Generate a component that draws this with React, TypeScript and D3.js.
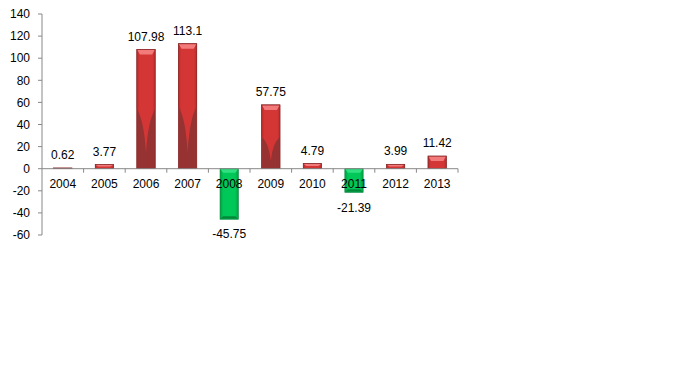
import React from "react";
import * as d3 from "d3";

const years = ["2004", "2005", "2006", "2007", "2008", "2009", "2010", "2011", "2012", "2013"];
const values = [0.62, 3.77, 107.98, 113.1, -45.75, 57.75, 4.79, -21.39, 3.99, 11.42];
const yTicks = [-60, -40, -20, 0, 20, 40, 60, 80, 100, 120, 140];

const W = 683, H = 384;
const left = 42, right = 458, top = 14, bottom = 235;

export default function App() {
  const x = d3.scaleBand().domain(years).range([left, right]).paddingInner(0.56).paddingOuter(0.28);
  const xb = d3.scaleBand().domain(years).range([left, right]);
  const y = d3.scaleLinear().domain([-60, 140]).range([bottom, top]);
  const y0 = y(0);
  const bw = x.bandwidth();
  const font = "'Liberation Sans', Arial, sans-serif";

  return (
    <svg width={W} height={H} style={{ position: "absolute", left: 0, top: 0 }} xmlns="http://www.w3.org/2000/svg">
      <defs>
        <linearGradient id="redH" x1="0" x2="1" y1="0" y2="0">
          <stop offset="0" stopColor="#b82a2a" />
          <stop offset="0.15" stopColor="#d43636" />
          <stop offset="0.85" stopColor="#d43636" />
          <stop offset="1" stopColor="#b82a2a" />
        </linearGradient>
        <linearGradient id="greenH" x1="0" x2="1" y1="0" y2="0">
          <stop offset="0" stopColor="#00a040" />
          <stop offset="0.18" stopColor="#00c858" />
          <stop offset="0.82" stopColor="#00c858" />
          <stop offset="1" stopColor="#00a040" />
        </linearGradient>
      </defs>
      <rect width={W} height={H} fill="#ffffff" />
      {/* y axis */}
      <line x1={left} x2={left} y1={top} y2={bottom} stroke="#888" />
      {yTicks.map((t) => (
        <g key={t}>
          <line x1={left - 4} x2={left} y1={y(t)} y2={y(t)} stroke="#888" />
          <text x={left - 12} y={y(t)} dy="0.35em" textAnchor="end" fontFamily={font} fontSize={12} fill="#000">
            {t}
          </text>
        </g>
      ))}
      {/* bars */}
      {values.map((v, i) => {
        const xs = x(years[i])!;
        const yt = Math.min(y(v), y0);
        const yb = Math.max(y(v), y0);
        const h = yb - yt;
        const pos = v >= 0;
        if (pos) {
          const cap = Math.min(5, h * 0.5);
          const big = h > 30;
          return (
            <g key={i}>
              <rect x={xs} y={yt} width={bw} height={h} fill={big ? "#963232" : "url(#redH)"} stroke="#8a2a2a" strokeWidth={0.6} />
              {big && (
                <path
                  d={`M${xs},${yt} L${xs},${yt + h * 0.5} Q${xs + bw * 0.4},${yt + h * 0.6} ${xs + bw / 2},${yb - h * 0.13} Q${xs + bw * 0.6},${yt + h * 0.6} ${xs + bw},${yt + h * 0.5} L${xs + bw},${yt} Z`}
                  fill="url(#redH)"
                />
              )}
              <path
                d={`M${xs + 0.5},${yt + 0.5} L${xs + bw - 0.5},${yt + 0.5} L${xs + bw - 3},${yt + cap} L${xs + 3},${yt + cap} Z`}
                fill="#f27a7a"
              />
              <rect x={xs} y={yt} width={bw} height={h} fill="none" stroke="#8a2a2a" strokeWidth={0.6} />
            </g>
          );
        }
        return (
          <g key={i}>
            <rect x={xs} y={yt} width={bw} height={h} fill="url(#greenH)" stroke="#00803a" strokeWidth={0.6} />
            <path
              d={`M${xs + 0.5},${yt + 0.5} L${xs + bw - 0.5},${yt + 0.5} L${xs + bw - 3},${yt + 4} L${xs + 3},${yt + 4} Z`}
              fill="#30e080"
            />
            <path
              d={`M${xs + 0.5},${yb - 0.5} L${xs + bw - 0.5},${yb - 0.5} L${xs + bw - 3},${yb - 3} L${xs + 3},${yb - 3} Z`}
              fill="#008838"
            />
          </g>
        );
      })}
      {/* x axis */}
      <line x1={left} x2={right} y1={y0} y2={y0} stroke="#888" />
      {years.map((yr, i) => (
        <line key={yr} x1={xb(yr)! + xb.bandwidth()} x2={xb(yr)! + xb.bandwidth()} y1={y0} y2={y0 + 4} stroke="#888" />
      ))}
      {years.map((yr) => (
        <text key={yr} x={xb(yr)! + xb.bandwidth() / 2} y={y0 + 15} dy="0.35em" textAnchor="middle" fontFamily={font} fontSize={12} fill="#000">
          {yr}
        </text>
      ))}
      {/* value labels */}
      {values.map((v, i) => (
        <text
          key={i}
          x={x(years[i])! + bw / 2}
          y={v >= 0 ? y(v) - 13 : y(v) + 15}
          dy="0.35em"
          textAnchor="middle"
          fontFamily={font}
          fontSize={12}
          fill="#000"
        >
          {v}
        </text>
      ))}
    </svg>
  );
}
